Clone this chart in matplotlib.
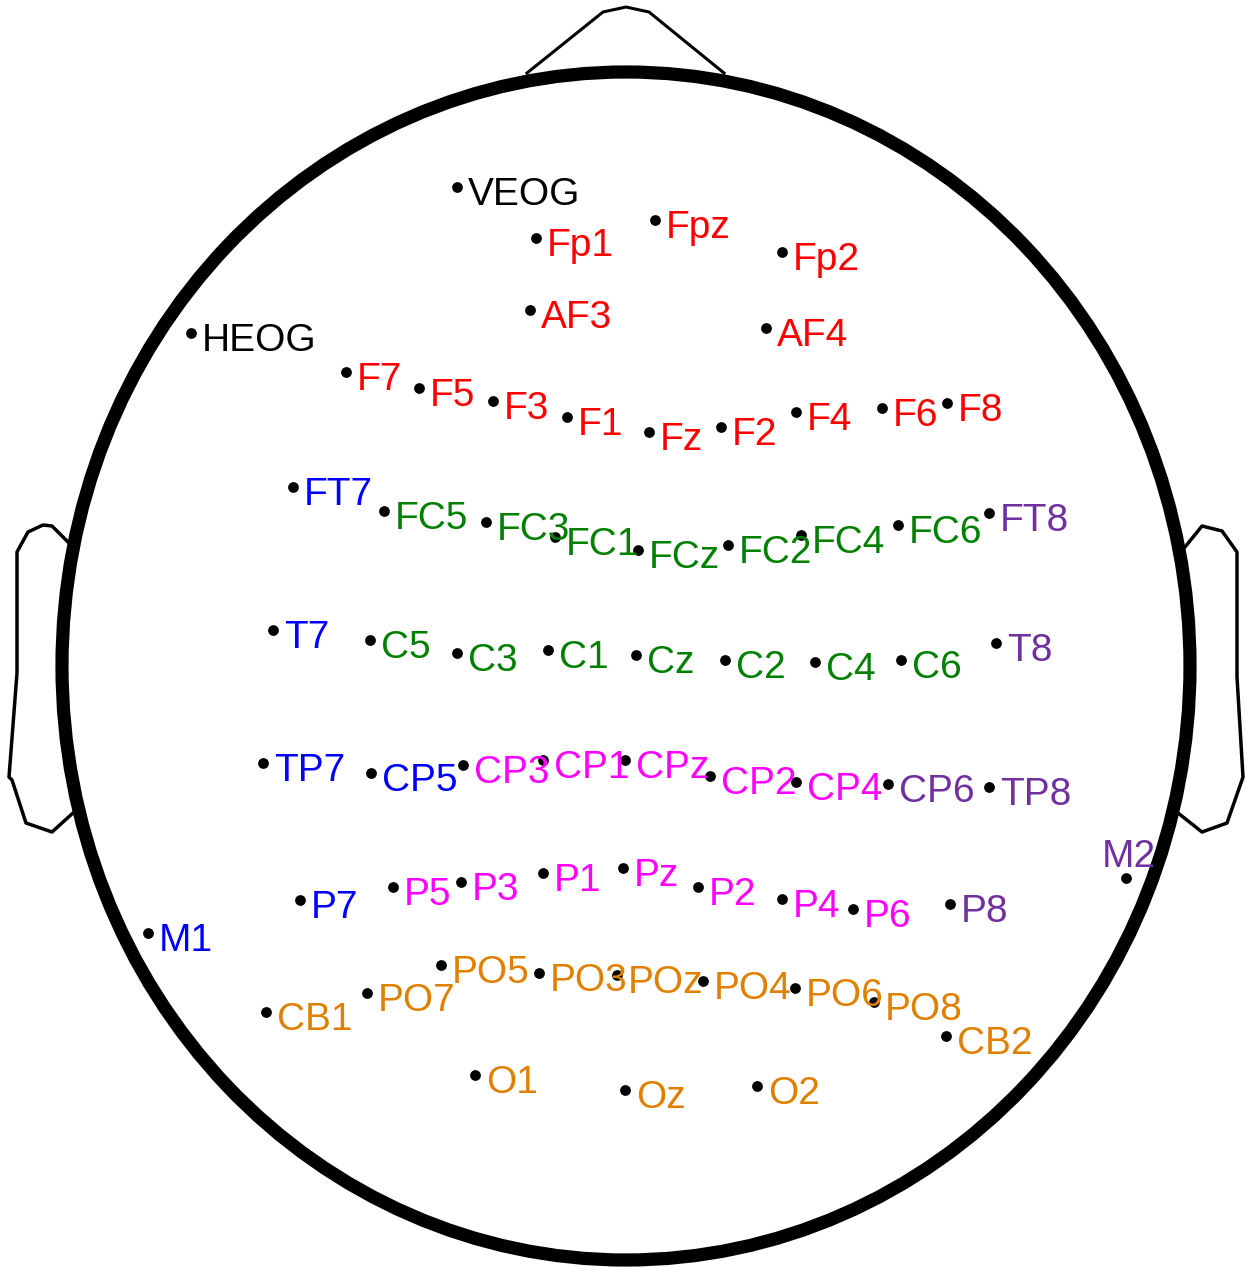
import numpy as np
import matplotlib
matplotlib.use("Agg")
import matplotlib.pyplot as plt
from matplotlib.patches import Ellipse

plt.rcParams['font.family'] = ['Liberation Sans', 'DejaVu Sans']

# electrode names, positions (image-pixel-like coordinates, y downward) and groups
names = ["VEOG", "HEOG",
         "Fp1", "Fpz", "Fp2", "AF3", "AF4", "F7", "F5", "F3", "F1", "Fz", "F2", "F4", "F6", "F8",
         "FT7", "T7", "TP7", "CP5", "P7", "M1",
         "FC5", "FC3", "FC1", "FCz", "FC2", "FC4", "FC6", "C5", "C3", "C1", "Cz", "C2", "C4", "C6",
         "FT8", "T8", "CP6", "TP8", "M2", "P8",
         "CP3", "CP1", "CPz", "CP2", "CP4", "P5", "P3", "P1", "Pz", "P2", "P4", "P6",
         "CB1", "PO7", "PO5", "PO3", "POz", "PO4", "PO6", "PO8", "CB2", "O1", "Oz", "O2"]
xs = [457, 191,
      536, 655, 782, 530, 766, 346, 419, 493, 567, 649, 721, 796, 882, 947,
      293, 273, 263, 371, 300, 148,
      384, 486, 555, 638, 728, 801, 898, 370, 457, 548, 636, 725, 815, 901,
      989, 996, 888, 989, 1126, 950,
      463, 543, 625, 710, 796, 393, 461, 543, 623, 698, 782, 853,
      266, 367, 441, 539, 617, 703, 795, 874, 946, 475, 625, 757]
ys = [187, 333,
      238, 220, 252, 310, 328, 372, 388, 401, 417, 432, 427, 412, 408, 403,
      487, 630, 763, 773, 900, 933,
      511, 522, 537, 550, 545, 535, 525, 640, 653, 650, 655, 660, 662, 660,
      513, 643, 784, 787, 878, 904,
      765, 760, 760, 776, 782, 887, 882, 873, 868, 887, 899, 909,
      1012, 993, 965, 973, 975, 981, 988, 1002, 1036, 1075, 1090, 1086]
groups = (["eog"] * 2 + ["frontal"] * 14 + ["left"] * 6 + ["central"] * 14 +
          ["right"] * 6 + ["parietal"] * 12 + ["occipital"] * 12)
group_colors = {"eog": "#000000", "frontal": "#FF0000", "left": "#0000FF",
                "central": "#008000", "right": "#7030A0", "parietal": "#FF00FF",
                "occipital": "#E08000"}

# head outline geometry
head_center = (626, 666)
head_size = (1128, 1188)
nose_x = [527, 603, 626, 649, 724]
nose_y = [73, 12, 7, 12, 73]
lear_x = [68, 52, 43, 28, 17, 17, 9, 12, 26, 52, 73]
lear_y = [542, 526, 525, 532, 552, 673, 777, 780, 823, 832, 813]
rear_x = [1185, 1202, 1222, 1237, 1237, 1243, 1242, 1227, 1202, 1178]
rear_y = [547, 526, 531, 552, 677, 777, 780, 823, 832, 813]

fig = plt.figure(figsize=(12.46, 12.67), dpi=100)
ax = fig.add_axes([0, 0, 1, 1])
ax.set_xlim(0, 1246)
ax.set_ylim(1267, 0)
ax.axis('off')

ax.add_patch(Ellipse(head_center, head_size[0], head_size[1], fill=False,
                     edgecolor='black', lw=9.5))
ax.plot(nose_x, nose_y, color='black', lw=2.2)
ax.plot(lear_x, lear_y, color='black', lw=2.5)
ax.plot(rear_x, rear_y, color='black', lw=2.5)

ax.scatter(xs, ys, s=60, color='black', zorder=3, linewidths=0)
for n, x, y, g in zip(names, xs, ys, groups):
    if n == "M2":
        ax.annotate(n, (x, y), xytext=(2, 8), textcoords='offset points',
                    ha='center', va='baseline', fontsize=28, color=group_colors[g])
    else:
        ax.annotate(n, (x, y), xytext=(8, -13), textcoords='offset points',
                    ha='left', va='baseline', fontsize=28, color=group_colors[g])

fig.savefig("out.png", dpi=100, facecolor='white')
